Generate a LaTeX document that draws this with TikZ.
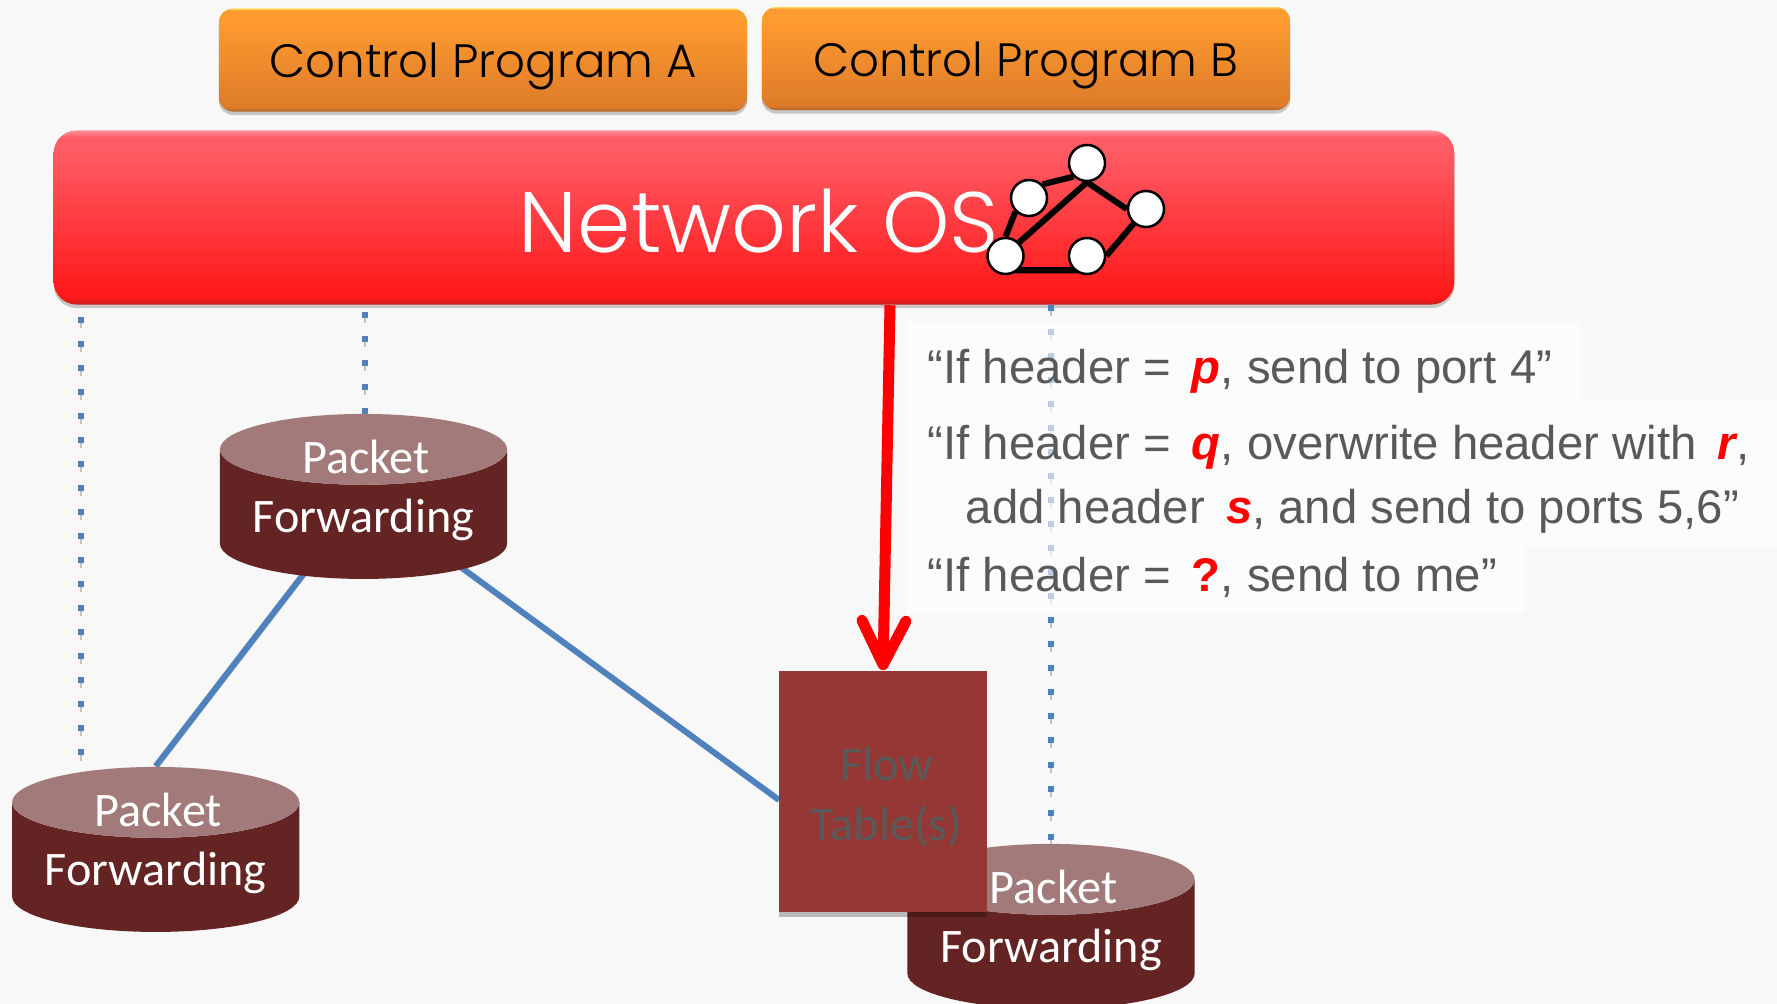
\documentclass[tikz,border=0pt]{standalone}
\usepackage{fontspec}
\setmainfont{Liberation Sans}
\newfontfamily\progfont{Poppins Light}
\newfontfamily\pffont{Carlito}
\usetikzlibrary{arrows.meta,shapes.geometric,shadows}
\pgfdeclarelayer{bg}
\pgfsetlayers{bg,main}
\definecolor{pagebg}{HTML}{F8F8F8}
\definecolor{linkblue}{HTML}{4F81BD}
\definecolor{pfdark}{HTML}{632423}
\definecolor{pflight}{HTML}{A17A79}
\definecolor{flowred}{HTML}{953735}
\definecolor{flowtext}{HTML}{595959}
\definecolor{ruletext}{HTML}{595959}
\definecolor{proga}{HTML}{A9642B}
\definecolor{progb}{HTML}{DD7B2A}
\definecolor{progc}{HTML}{FF9B2F}
\definecolor{progd}{HTML}{FFD860}
\definecolor{osa}{HTML}{C41E1E}
\definecolor{osb}{HTML}{FF1818}
\definecolor{osc}{HTML}{FF5C66}
\definecolor{osd}{HTML}{FF8F9A}
\pgfdeclareverticalshading{progshade}{100bp}{color(0bp)=(proga);color(25bp)=(proga);color(27bp)=(progb);color(69bp)=(progc);color(74bp)=(progc);color(75bp)=(progd);color(100bp)=(progd)}
\pgfdeclareverticalshading{osshade}{100bp}{color(0bp)=(osa);color(25bp)=(osa);color(27bp)=(osb);color(70bp)=(osc);color(73bp)=(osc);color(75bp)=(osd);color(100bp)=(osd)}
\newcommand{\basetext}[2]{\raisebox{#1}[0pt][0pt]{#2}}
\newcommand{\hdrvar}[1]{{\color{red}\bfseries\itshape #1}}
\newcommand{\pftext}{\hspace*{.05cm}\basetext{.115cm}{Packet}\\\basetext{.115cm}{Forwarding}}
\tikzset{
  progbox/.style={draw=none, shading=progshade, rounded corners=.14cm, minimum width=5.28cm, minimum height=1.03cm, inner sep=0pt, font=\progfont\fontsize{13.3pt}{17pt}\selectfont, drop shadow={shadow xshift=0pt, shadow yshift=-.035cm, opacity=.2, fill=black}},
  osbox/.style={draw=none, shading=osshade, rounded corners=.23cm, minimum width=14cm, minimum height=1.74cm, inner sep=0pt, text=white, font=\progfont\fontsize{24.4pt}{30pt}\selectfont, drop shadow={shadow xshift=0pt, shadow yshift=-.035cm, opacity=.2, fill=black}},
  osvertex/.style={draw=black, fill=white, circle, line width=.025cm, minimum size=.36cm, inner sep=0pt},
  pfnode/.style={cylinder, shape border rotate=90, aspect=.32, minimum width=2.87cm, minimum height=.89cm, inner sep=0pt, cylinder uses custom fill, cylinder body fill=pfdark, cylinder end fill=pflight, text=white, align=center, font=\pffont\fontsize{13.7pt}{16.5pt}\selectfont},
  flowbox/.style={fill=flowred, text=flowtext, align=center, minimum width=2.08cm, minimum height=2.41cm, inner sep=0pt, font=\pffont\fontsize{13.7pt}{16.8pt}\selectfont, drop shadow={shadow xshift=0pt, shadow yshift=-.05cm, opacity=.25, fill=black}},
  dotlink/.style={draw=linkblue, line width=.065cm, dash pattern=on .06cm off .18cm, preaction={draw=gray, opacity=.45, dash pattern=on .06cm off .18cm, transform canvas={yshift=-.05cm}}},
  netlink/.style={draw=linkblue, line width=.06cm, preaction={draw=gray, opacity=.35, transform canvas={xshift=.02cm, yshift=-.02cm}}},
  rulepatch/.style={fill=white, fill opacity=.6, inner sep=0pt, anchor=north west},
  ruleline/.style={text=ruletext, anchor=base west, inner sep=0pt, font=\fontsize{13.45pt}{16pt}\selectfont},
}
\begin{document}
\begin{tikzpicture}[x=.01cm, y=-.01cm]
\path[use as bounding box] (0,0) rectangle (1777,1004);
\draw
(81,800) coordinate (dotleft)
(365,460) coordinate (dotmid)
(779,800) coordinate (linkend)
(363.5,496) coordinate (linkstart)
(754,217.5) coordinate (nospos)
(363.5,514.5) node [pfnode] (pfa) {\pftext}
(155.7,867.5) node [pfnode] (pfb) {\pftext}
(1051,944.5) node [pfnode] (pfc) {\pftext};
\draw
(1087,163) node [osvertex] (va) {}
(1029,198) node [osvertex] (vb) {}
(1146,209) node [osvertex] (vc) {}
(1005.5,256) node [osvertex] (vd) {}
(1087,256) node [osvertex] (ve) {};
\begin{pgfonlayer}{bg}
\fill[pagebg] (0,0) rectangle (1777,1004);
\draw (nospos) node [osbox] (nos) {\hspace*{.1cm}\basetext{-.345cm}{Network OS}};
\draw[netlink] (linkstart) -- (pfb.north);
\draw[netlink] (linkstart) -- (linkend);
\draw[dotlink, dash phase=.12cm] (nos.south -| dotleft) -- (dotleft);
\draw[dotlink, dash phase=.17cm] (nos.south -| dotmid) -- (dotmid);
\draw[dotlink] (nos.south -| pfc.north) -- (pfc.north);
\draw[line width=.06cm]
(va.south west) -- (vb.north east) (va.south) -- (vc.west) (va.south) -- (vd.north east) (vb.south west) -- (vd.north) ([yshift=.05cm]vd.south) -- ([yshift=.05cm]ve.south) (vc.center) -- (ve.east);
\end{pgfonlayer}
\draw
(483,60) node [progbox] (proga) {\basetext{-.18cm}{Control Program A}}
(1026,58.5) node [progbox] (progb) {\basetext{-.18cm}{Control Program B}};
\path
(906,321) node [rulepatch, minimum width=6.73cm, minimum height=.77cm] (patcha) {}
(906,398) node [rulepatch, minimum width=8.71cm, minimum height=1.48cm] (patchb) {}
(906,546) node [rulepatch, minimum width=6.18cm, minimum height=.66cm] (patchc) {};
\draw
(883,791.5) node [flowbox] (flow) {\hspace*{.07cm}\basetext{-.19cm}{Flow}\\\hspace*{.07cm}\basetext{-.19cm}{Table(s)}};
\draw[-{Straight Barb[length=.44cm, width=.44cm, line width=.11cm, round]}, draw=red, line width=.11cm] (nos.south -| 890,0) -- (flow.north);
\path
(927,384) node [ruleline] (rulea) {“If header = \,\hdrvar{p}, send to port 4”}
(927,460) node [ruleline] (ruleb) {“If header = \,\hdrvar{q}, overwrite header with \,\hdrvar{r},}
(965,524) node [ruleline] (rulec) {add header \,\hdrvar{s}, and send to ports 5,6”}
(927,591) node [ruleline] (ruled) {“If header = \,{\color{red}\bfseries ?}, send to me”};
\end{tikzpicture}
\end{document}
